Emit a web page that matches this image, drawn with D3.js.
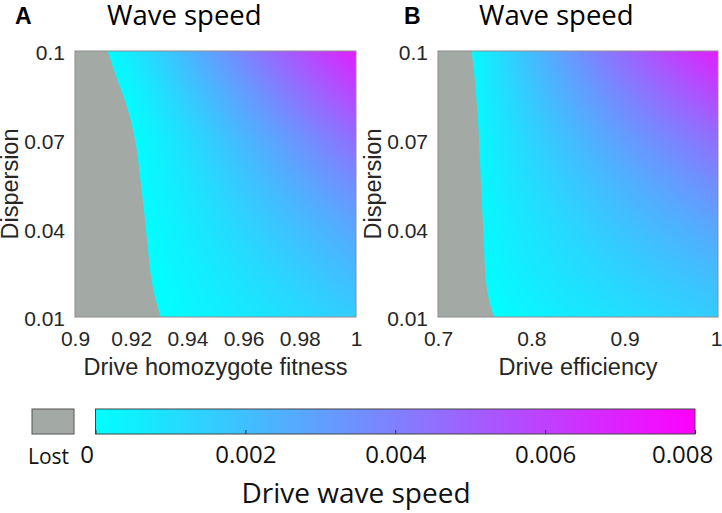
<!DOCTYPE html>
<html><head><meta charset="utf-8">
<script src="https://cdn.jsdelivr.net/npm/d3@7"></script>
<style>body{margin:0;background:#fff}svg{display:block}</style>
</head><body><svg id="chart" width="722" height="513"></svg>
<script>
// ---------------- data ----------------
const speedMax = 0.008;
const dispersionRows = [0.1, 0.085, 0.07, 0.055, 0.04, 0.025, 0.01];

// Panel A: drive homozygote fitness
const fitnessCols = [0.90, 0.91, 0.92, 0.93, 0.94, 0.95, 0.96, 0.97, 0.98, 0.99, 1.00];
const speedA = [
  [0, 0, 0.00068, 0.00147, 0.00227, 0.00306, 0.00386, 0.00465, 0.00545, 0.00625, 0.00704],
  [0, 0, 0.00024, 0.00093, 0.00162, 0.00231, 0.00300, 0.00369, 0.00438, 0.00507, 0.00576],
  [0, 0, 0,       0.00051, 0.00109, 0.00166, 0.00225, 0.00282, 0.00340, 0.00398, 0.00456],
  [0, 0, 0,       0.00034, 0.00080, 0.00126, 0.00174, 0.00220, 0.00266, 0.00314, 0.00360],
  [0, 0, 0,       0.00022, 0.00059, 0.00096, 0.00133, 0.00170, 0.00206, 0.00243, 0.00280],
  [0, 0, 0,       0.00009, 0.00039, 0.00068, 0.00098, 0.00127, 0.00157, 0.00187, 0.00216],
  [0, 0, 0,       0,       0.00022, 0.00045, 0.00068, 0.00091, 0.00114, 0.00137, 0.00160]
];
const lostA_dispersion = [0.1, 0.0907, 0.0794, 0.0682, 0.0569, 0.0456, 0.0344, 0.0232, 0.0165, 0.01];
const lostA_fitness    = [0.9115, 0.9149, 0.919, 0.9217, 0.9232, 0.9246, 0.9258, 0.9271, 0.9285, 0.9305];

// Panel B: drive efficiency
const efficiencyCols = [0.70, 0.73, 0.76, 0.79, 0.82, 0.85, 0.88, 0.91, 0.94, 0.97, 1.00];
const speedB = [
  [0, 0, 0.00092, 0.00182, 0.00266, 0.00345, 0.00421, 0.00494, 0.00566, 0.00635, 0.00704],
  [0, 0, 0.00075, 0.00150, 0.00218, 0.00282, 0.00344, 0.00404, 0.00462, 0.00519, 0.00576],
  [0, 0, 0.00059, 0.00118, 0.00172, 0.00223, 0.00272, 0.00320, 0.00366, 0.00411, 0.00456],
  [0, 0, 0.00047, 0.00094, 0.00136, 0.00176, 0.00215, 0.00253, 0.00289, 0.00325, 0.00360],
  [0, 0, 0.00036, 0.00073, 0.00106, 0.00137, 0.00167, 0.00197, 0.00225, 0.00253, 0.00280],
  [0, 0, 0.00022, 0.00056, 0.00082, 0.00106, 0.00129, 0.00152, 0.00174, 0.00195, 0.00216],
  [0, 0, 0,       0.00027, 0.00050, 0.00070, 0.00089, 0.00107, 0.00126, 0.00143, 0.00160]
];
const lostB_dispersion = [0.1, 0.091, 0.0797, 0.0685, 0.0573, 0.046, 0.0348, 0.0236, 0.0169, 0.0124, 0.01];
const lostB_efficiency = [0.736, 0.7392, 0.7421, 0.7442, 0.7456, 0.7474, 0.7492, 0.7509, 0.7538, 0.7574, 0.7599];

const xTicksA = [0.9, 0.92, 0.94, 0.96, 0.98, 1];
const xTicksB = [0.7, 0.8, 0.9, 1];
const yTicks = [0.01, 0.04, 0.07, 0.1];
const colorbarTicks = [0, 0.002, 0.004, 0.006, 0.008];
const panelLetters = ["A", "B"];
const panelTitle = "Wave speed";
const xTitles = ["Drive homozygote fitness", "Drive efficiency"];
const yTitle = "Dispersion";
const colorbarTitle = "Drive wave speed";
const lostLabel = "Lost";

// ---------------- drawing ----------------
const lostColor = "#a3a9a4";
const color = d3.scaleLinear().domain([0, speedMax]).range(["#00ffff", "#ff00ff"]).clamp(true);
const svg = d3.select("#chart");
const axisFont = "'Liberation Sans', Arial, sans-serif";
const uiFont = "'Open Sans', sans-serif";

function bilinear(cols, rows, grid, xv, yv) {
  let i = d3.bisectRight(cols, xv) - 1;
  i = Math.max(0, Math.min(cols.length - 2, i));
  const ra = rows.slice().reverse();
  let j = d3.bisectRight(ra, yv) - 1;
  j = Math.max(0, Math.min(ra.length - 2, j));
  const tx = Math.max(0, Math.min(1, (xv - cols[i]) / (cols[i + 1] - cols[i])));
  const ty = Math.max(0, Math.min(1, (yv - ra[j]) / (ra[j + 1] - ra[j])));
  const n = rows.length - 1;
  const g = (jj, ii) => grid[n - jj][ii];
  const v0 = g(j, i) * (1 - tx) + g(j, i + 1) * tx;
  const v1 = g(j + 1, i) * (1 - tx) + g(j + 1, i + 1) * tx;
  return v0 * (1 - ty) + v1 * ty;
}

function panel(opt) {
  const x = d3.scaleLinear().domain(opt.xDomain).range([opt.left, opt.right]);
  const y = d3.scaleLinear().domain([0.01, 0.1]).range([opt.bottom, opt.top]);
  const w = Math.round(opt.right - opt.left), h = Math.round(opt.bottom - opt.top);
  const cv = document.createElement("canvas");
  cv.width = w; cv.height = h;
  const ctx = cv.getContext("2d");
  const img = ctx.createImageData(w, h);
  for (let py = 0; py < h; py++) {
    const dv = y.invert(opt.top + py + 0.5);
    for (let px = 0; px < w; px++) {
      const xv = x.invert(opt.left + px + 0.5);
      const c = d3.rgb(color(bilinear(opt.cols, dispersionRows, opt.grid, xv, dv)));
      const k = (py * w + px) * 4;
      img.data[k] = c.r; img.data[k + 1] = c.g; img.data[k + 2] = c.b; img.data[k + 3] = 255;
    }
  }
  ctx.putImageData(img, 0, 0);
  const g = svg.append("g");
  g.append("image").attr("href", cv.toDataURL()).attr("x", opt.left).attr("y", opt.top)
    .attr("width", w).attr("height", h).attr("preserveAspectRatio", "none");
  const pts = opt.lostD.map((d, i) => ({ d, v: opt.lostX[i] }));
  g.append("path").datum(pts)
    .attr("d", d3.area().curve(d3.curveMonotoneY).y(p => y(p.d)).x0(x(opt.xDomain[0])).x1(p => x(p.v)))
    .attr("fill", lostColor);
  g.append("rect").attr("x", opt.left).attr("y", opt.top).attr("width", w).attr("height", h)
    .attr("fill", "none").attr("stroke", "#8c8c8c").attr("stroke-width", 1);

  const xa = g.append("g").attr("transform", `translate(0,${opt.bottom})`)
    .call(d3.axisBottom(x).tickValues(opt.xTicks).tickSize(0).tickPadding(14).tickFormat(d3.format("")));
  const ya = g.append("g").attr("transform", `translate(${opt.left},0)`)
    .call(d3.axisLeft(y).tickValues(yTicks).tickSize(0).tickPadding(10).tickFormat(d3.format("")));
  [xa, ya].forEach(a => {
    a.select(".domain").remove();
    a.selectAll("text").attr("font-family", axisFont).attr("font-size", 21).attr("fill", "#262626");
  });
  ya.selectAll("text").attr("dy", "0.42em");
  if (opt.lastShift) xa.selectAll("text").filter(d => d === 1).attr("dx", opt.lastShift);

  g.append("text").attr("x", (opt.left + opt.right) / 2).attr("y", 375)
    .attr("text-anchor", "middle").attr("font-family", axisFont).attr("font-size", 23.5)
    .attr("fill", "#262626").text(opt.xTitle);
  g.append("text").attr("transform", `translate(${opt.left - 57},${(opt.top + opt.bottom) / 2}) rotate(-90)`)
    .attr("text-anchor", "middle").attr("font-family", axisFont).attr("font-size", 23.5)
    .attr("fill", "#262626").text(yTitle);
  g.append("text").attr("x", opt.letterX).attr("y", 24).attr("font-family", axisFont)
    .attr("font-weight", "bold").attr("font-size", 23).text(opt.letter);
  g.append("text").attr("x", opt.titleX).attr("y", 25).attr("font-family", uiFont)
    .attr("font-size", 27.5).text(panelTitle);
}

panel({ left: 75, right: 356, top: 51, bottom: 317, xDomain: [0.9, 1], cols: fitnessCols, grid: speedA,
  lostD: lostA_dispersion, lostX: lostA_fitness, xTicks: xTicksA, xTitle: xTitles[0],
  letter: panelLetters[0], letterX: 15, titleX: 107 });
panel({ left: 438, right: 718, top: 51, bottom: 317, xDomain: [0.7, 1], cols: efficiencyCols, grid: speedB,
  lostD: lostB_dispersion, lostX: lostB_efficiency, xTicks: xTicksB, xTitle: xTitles[1],
  letter: panelLetters[1], letterX: 404, titleX: 479, lastShift: -2 });

// colorbar
const cb = svg.append("g");
const cx = d3.scaleLinear().domain([0, speedMax]).range([95.5, 695]);
const grad = svg.append("defs").append("linearGradient").attr("id", "cool");
grad.selectAll("stop").data(colorbarTicks).join("stop")
  .attr("offset", d => (d / speedMax)).attr("stop-color", d => color(d));
cb.append("rect").attr("x", 32).attr("y", 409).attr("width", 42).attr("height", 25)
  .attr("fill", lostColor).attr("stroke", "#555").attr("stroke-width", 1);
cb.append("rect").attr("x", cx(0)).attr("y", 409).attr("width", cx(speedMax) - cx(0)).attr("height", 25)
  .attr("fill", "url(#cool)").attr("stroke", "#444").attr("stroke-width", 1);
const cax = cb.append("g").attr("transform", "translate(0,434)")
  .call(d3.axisBottom(cx).tickValues(colorbarTicks).tickSizeInner(-4).tickSizeOuter(0).tickPadding(12)
    .tickFormat(d => d === 0 ? "0" : d3.format(".3f")(d)));
cax.select(".domain").remove();
cax.selectAll("line").attr("stroke", "#333");
cax.selectAll("text").attr("font-family", uiFont).attr("font-size", 24).attr("fill", "#111");
cax.selectAll("text").filter(d => d === 0).attr("dx", -9);
cax.selectAll("text").filter(d => d === speedMax).attr("dx", -13);
cb.append("text").attr("x", 28).attr("y", 464).attr("font-family", uiFont).attr("font-size", 21)
  .attr("fill", "#111").text(lostLabel);
cb.append("text").attr("x", 356).attr("y", 503).attr("text-anchor", "middle").attr("font-family", uiFont)
  .attr("font-size", 28).attr("fill", "#111").text(colorbarTitle);
</script></body></html>
